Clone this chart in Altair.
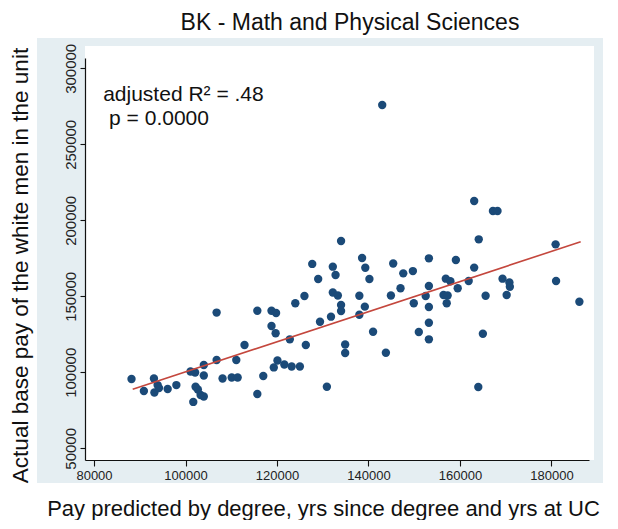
import altair as alt
import pandas as pd

# ---- data ----
predicted = [
    88200, 90900, 93100, 93900, 93200, 94200, 96100, 98000, 101100, 102100,
    101700, 102200, 102700, 103300, 104000, 104000, 104000, 106800, 106800, 108100,
    110100, 111400, 111100, 112900, 115700, 115700, 117000, 118800, 119800, 118800,
    119700, 119300, 120100, 121600, 122800, 123200, 124000, 125000, 126000, 126300,
    134000, 127700, 129000, 132200, 132800, 132200, 133300, 134000, 134000, 129400,
    131800, 138600, 139300, 140200, 138000, 139200, 138000, 141000, 134900, 134900,
    143800, 145400, 147600, 149700, 144900, 147000, 149900, 143000, 163100, 167200,
    168200, 164100, 180900, 153200, 159100, 163100, 156900, 157900, 153200, 159500,
    161900, 169300, 170800, 170900, 152500, 156400, 157300, 157100, 153200, 165600,
    170200, 181000, 186100, 153200, 151000, 153200, 165000, 164000, 130900,
]
actual = [
    95600, 87700, 95900, 91600, 86700, 89700, 89000, 91600, 100500, 99900,
    80500, 90500, 88700, 85100, 104800, 97900, 84100, 139300, 108100, 95900,
    96600, 96600, 108100, 118000, 140500, 85700, 97600, 140500, 139000, 130500,
    125700, 103200, 107800, 105100, 121700, 103800, 145400, 103800, 150200, 118000,
    186400, 171300, 161400, 169500, 164000, 152500, 150500, 144300, 140300, 133300,
    136600, 175200, 168800, 161400, 150400, 143200, 137900, 126700, 118300, 112700,
    112900, 171600, 165100, 166600, 150500, 155300, 145400, 275900, 212700, 206100,
    206100, 187500, 184200, 175000, 173900, 168900, 161600, 159900, 156800, 155300,
    160100, 161600, 159100, 156300, 150200, 150900, 150500, 145400, 143000, 150400,
    150900, 160100, 146400, 132600, 126500, 121700, 125400, 90300, 90500,
]

fit_predicted = [88460, 186380]
fit_actual = [88800, 185900]

note_text = ["adjusted R\u00b2 = .48", "p = 0.0000"]
note_predicted = [82000, 83300]
note_actual = [278500, 262700]

x_ticks = [80000, 100000, 120000, 140000, 160000, 180000]
y_ticks = [50000, 100000, 150000, 200000, 250000, 300000]

points_df = pd.DataFrame({"predicted": predicted, "actual": actual})
fit_df = pd.DataFrame({"predicted": fit_predicted, "actual": fit_actual})
note_df = pd.DataFrame({"predicted": note_predicted, "actual": note_actual, "label": note_text})

FONT = "Liberation Sans"
W, H = 504, 402

x_scale = alt.Scale(domain=[78030, 188200], nice=False, zero=False)
y_scale = alt.Scale(domain=[42300, 306800], nice=False, zero=False)

x_enc = alt.X(
    "predicted:Q",
    scale=x_scale,
    axis=alt.Axis(
        values=x_ticks, format="d", grid=False,
        title="Pay predicted by degree, yrs since degree and yrs at UC",
        titleFont=FONT, titleFontSize=22, titleFontWeight="normal", titleColor="#111",
        titleX=238, titleY=48, titleAlign="center", titleBaseline="middle",
        labelFont=FONT, labelFontSize=13, labelColor="#222", labelPadding=3,
        labelFlush=False, labelOverlap=False,
        tickSize=6, tickColor="#111", domainColor="#111", domainWidth=1.2, tickWidth=1.1,
        zindex=1,
    ),
)
y_enc = alt.Y(
    "actual:Q",
    scale=y_scale,
    axis=alt.Axis(
        values=y_ticks, format="d", grid=False,
        title="Actual base pay of the white men in the unit",
        titleFont=FONT, titleFontSize=22.5, titleFontWeight="normal", titleColor="#111",
        titleX=-65, titleY=207, titleAngle=270, titleAlign="center", titleBaseline="middle",
        labelFont=FONT, labelFontSize=15, labelColor="#222", labelPadding=2,
        labelAngle=270, labelAlign="center", labelBaseline="bottom",
        labelFlush=False, labelOverlap=False,
        tickSize=5, tickColor="#111", domainColor="#111", domainWidth=1.2, tickWidth=1.1,
        zindex=1,
    ),
)

dummy = pd.DataFrame({"k": [0]})
outer_bg = alt.Chart(dummy).mark_rect(color="#e5eef2").encode(
    x=alt.value(-48), x2=alt.value(518), y=alt.value(-20), y2=alt.value(425)
)
plot_bg = alt.Chart(dummy).mark_rect(color="white").encode(
    x=alt.value(0), x2=alt.value(509), y=alt.value(-12), y2=alt.value(402)
)

points = alt.Chart(points_df).mark_circle(size=70, opacity=1, color="#1b4a78").encode(
    x=x_enc, y=y_enc
)
fit = alt.Chart(fit_df).mark_line(color="#c4473d", strokeWidth=1.6).encode(
    x=x_enc, y=y_enc
)
notes = alt.Chart(note_df).mark_text(
    align="left", baseline="alphabetic", font=FONT, fontSize=21, color="#111"
).encode(x=x_enc, y=y_enc, text="label:N")

chart = alt.layer(outer_bg, plot_bg, points, fit, notes).properties(
    width=W,
    height=H,
    title=alt.TitleParams(
        "BK - Math and Physical Sciences", font=FONT, fontSize=23,
        fontWeight="normal", color="#111", anchor="middle", dx=13, offset=3,
    ),
    autosize="none",
    padding={"left": 77, "top": 50, "right": 20, "bottom": 60},
).configure_view(stroke=None).configure(background="white")

chart.save("out.html", embed_options={"renderer": "svg", "actions": False})
